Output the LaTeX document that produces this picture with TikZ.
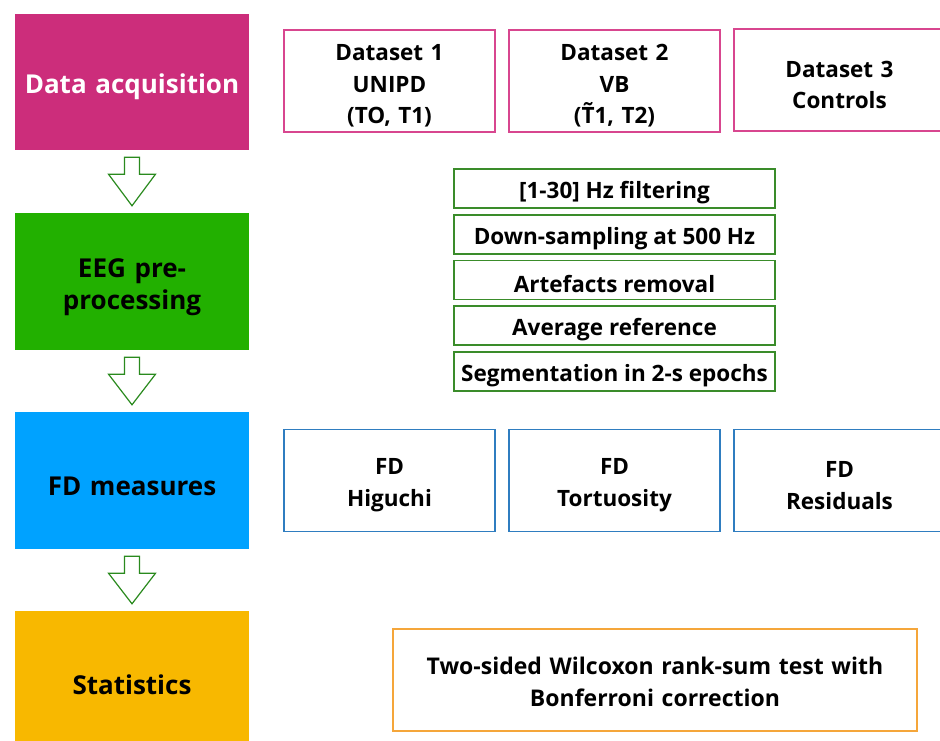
\documentclass[tikz,border=0pt]{standalone}
\usepackage{fontspec}
\setmainfont{Open Sans}
\usetikzlibrary{calc}
\definecolor{acqmag}{HTML}{CC2D7B}
\definecolor{eeggreen}{HTML}{22B000}
\definecolor{fdblue}{HTML}{00A2FF}
\definecolor{statyel}{HTML}{F8B800}
\definecolor{dsline}{HTML}{D8468F}
\definecolor{ppline}{HTML}{3A8C2A}
\definecolor{fdline}{HTML}{2F7DC0}
\definecolor{stline}{HTML}{F5A63A}
\definecolor{arrline}{HTML}{2A8A1E}
% capital T carrying a tilde
\newcommand\Ttilde{\ooalign{T\cr\hidewidth\raisebox{0.2em}{\symbol{"02DC}}\hidewidth\cr}}
% taller first line, so the text sits a little below the box centre
\newcommand\lowstrut{\rule{0pt}{1.15em}}
\begin{document}
\begin{tikzpicture}[x=1pt,y=-1pt,
  lowered/.style={execute at begin node=\lowstrut},
  stage/.style={minimum width=234pt, minimum height=137pt, inner sep=0pt,
    align=center, text width=220pt, font=\fontsize{26}{32}\selectfont\bfseries, lowered},
  framebox/.style={draw, line width=1.2pt, minimum width=211pt, minimum height=102pt,
    inner sep=0pt, align=center, text width=200pt, font=\fontsize{22.5}{31.5}\selectfont\bfseries},
  infobox/.style={framebox, lowered},
  stepbox/.style={draw=ppline, line width=1.2pt, minimum width=321pt, minimum height=39pt,
    inner sep=0pt, align=center, font=\fontsize{22.5}{26}\selectfont\bfseries, lowered},
  flowarrow/.style={draw=arrline, line width=1.2pt, fill=white, line join=miter}
]
\useasboundingbox (0,0) rectangle (940,740);

% pipeline stages
\node[stage, fill=acqmag, text=white, minimum height=136pt] (acq) at (132,82) {Data acquisition};
\node[stage, fill=eeggreen] (eeg) at (132,281.5) {EEG pre-\\processing};
\node[stage, fill=fdblue] (fd) at (132,480.5) {FD measures};
\node[stage, fill=statyel] (stat) at (132,679.5) {Statistics};

% datasets
\node[infobox, draw=dsline] (ds1) at (389.5,81) {Dataset 1\\UNIPD\\(TO, T1)};
\node[infobox, draw=dsline] (ds2) at (614.5,81) {Dataset 2\\VB\\(\Ttilde1, T2)};
\node[infobox, draw=dsline] (ds3) at (839.5,80) {Dataset 3\\Controls};

% pre-processing steps
\node[stepbox] (pp1) at (614.5,188.5) {[1-30] Hz filtering};
\node[stepbox] (pp2) at (614.5,234.5) {Down-sampling at 500 Hz};
\node[stepbox] (pp3) at (614.5,280) {Artefacts removal};
\node[stepbox] (pp4) at (614.5,325.5) {Average reference};
\node[stepbox] (pp5) at (614.5,371.5) {Segmentation in 2-s epochs};

% fractal dimension measures
\node[infobox, draw=fdline] (fd1) at (389.5,480.5) {FD\\Higuchi};
\node[infobox, draw=fdline] (fd2) at (614.5,480.5) {FD\\Tortuosity};
\node[infobox, draw=fdline] (fd3) at (839.5,480.5) {FD\\Residuals};

% statistical test
\node[framebox, draw=stline, minimum width=524pt, text width=510pt,
  font=\fontsize{23}{32}\selectfont\bfseries,
  execute at begin node={\rule{0pt}{0.95em}}] (test) at (655,680)
  {Two-sided Wilcoxon rank-sum test with\\Bonferroni correction};

% hollow block arrows between stages
\foreach \a/\b in {acq/eeg, fd/stat, eeg/fd}{
  \draw[flowarrow] ($(\a.south)+(-7.5,7)$) -- ($(\a.south)+(-7.5,24)$)
    -- ($(\a.south)+(-23.5,24)$) -- ($(\b.north)+(0,-7)$)
    -- ($(\a.south)+(23.5,24)$) -- ($(\a.south)+(7.5,24)$)
    -- ($(\a.south)+(7.5,7)$) -- cycle;
}
\end{tikzpicture}
\end{document}
